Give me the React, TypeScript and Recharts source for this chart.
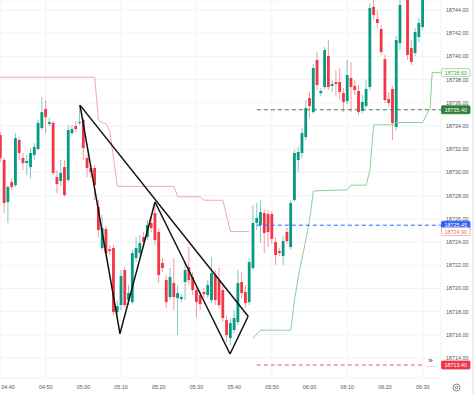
import {
  Bar,
  CartesianGrid,
  ComposedChart,
  Line,
  ReferenceDot,
  ReferenceLine,
  XAxis,
  YAxis,
} from "recharts";

const UP = "#089981";
const DOWN = "#f23645";
const FONT = '"Liberation Sans", Arial, sans-serif';
const AXIS_TEXT = { fontSize: 5.4, fill: "#555", fontFamily: FONT } as const;

// one candle per minute, minutes counted from 04:40 (first candle is 04:38)
const FIRST_MINUTE = -2;

const opens = [
  18733.22, 18731.07, 18727.45, 18729.17, 18728.91, 18732.79, 18731.24, 18730.81, 18730.46, 18731.5,
  18732.02, 18733.83, 18735.46, 18734.17, 18734.26, 18729.6, 18729.26, 18730.46, 18729.34, 18733.39,
  18734.0, 18734.26, 18734.52, 18731.24, 18730.38, 18730.38, 18727.02, 18723.48, 18725.12, 18723.39,
  18723.48, 18717.96, 18718.57, 18721.58, 18718.99, 18718.82, 18722.62, 18723.05, 18724.43, 18724.43,
  18725.64, 18726.5, 18724.86, 18722.19, 18720.72, 18719.26, 18720.46, 18719.17, 18719.08, 18720.55,
  18721.84, 18720.98, 18719.86, 18719.43, 18719.69, 18719.43, 18718.99, 18721.15, 18720.72, 18719.86,
  18717.27, 18715.72, 18716.41, 18717.1, 18720.55, 18719.69, 18718.82, 18721.76, 18725.64, 18725.46,
  18726.5, 18726.41, 18726.41, 18724.0, 18723.22, 18722.79, 18724.86, 18723.57, 18727.62, 18731.07,
  18731.67, 18733.05, 18736.41, 18735.2, 18739.69, 18736.84, 18737.36, 18740.03, 18737.45, 18737.79,
  18737.79, 18736.84, 18736.15, 18738.14, 18737.45, 18737.02, 18735.29, 18735.72, 18737.36, 18744.26,
  18743.22, 18742.36, 18739.77, 18736.33, 18737.19, 18733.91, 18741.15, 18745.0, 18745.12, 18740.72,
  18740.29, 18741.67, 18742.53,
];
const highs = [
  18733.48, 18731.24, 18728.91, 18729.51, 18733.39, 18733.05, 18731.67, 18731.5, 18732.1, 18732.53,
  18734.52, 18736.5, 18736.24, 18734.69, 18734.43, 18730.2, 18731.07, 18731.07, 18734.08, 18734.08,
  18734.43, 18735.81, 18734.69, 18731.5, 18730.6, 18730.64, 18727.62, 18726.32, 18725.38, 18723.74,
  18723.74, 18718.99, 18721.58, 18721.84, 18720.29, 18723.31, 18724.43, 18724.6, 18724.86, 18725.89,
  18726.24, 18727.36, 18725.2, 18722.62, 18721.15, 18721.76, 18722.62, 18720.29, 18719.51, 18722.27,
  18723.57, 18721.41, 18720.29, 18719.69, 18720.03, 18720.72, 18722.7, 18721.58, 18721.76, 18720.46,
  18717.7, 18717.45, 18718.13, 18721.58, 18721.41, 18720.29, 18722.62, 18727.19, 18727.36, 18727.62,
  18726.76, 18726.76, 18726.67, 18724.43, 18723.48, 18724.52, 18725.2, 18727.62, 18731.93, 18732.19,
  18733.83, 18736.24, 18736.93, 18739.34, 18740.38, 18737.27, 18740.81, 18741.41, 18737.96, 18738.83,
  18739.0, 18737.27, 18739.69, 18739.52, 18737.96, 18737.53, 18736.67, 18737.96, 18744.6, 18745.03,
  18744.0, 18742.71, 18740.12, 18736.93, 18737.45, 18741.76, 18745.29, 18746.8, 18745.5, 18741.41,
  18742.45, 18743.31, 18745.4,
];
const lows = [
  18730.9, 18726.5, 18725.64, 18728.48, 18728.74, 18731.07, 18730.2, 18729.77, 18729.51, 18731.07,
  18731.93, 18733.65, 18733.39, 18734.0, 18729.77, 18728.22, 18728.83, 18727.88, 18729.17, 18733.22,
  18733.48, 18734.08, 18731.07, 18729.6, 18729.51, 18727.62, 18724.34, 18723.31, 18722.7, 18722.88,
  18717.7, 18717.45, 18718.13, 18718.31, 18718.57, 18718.65, 18722.27, 18722.79, 18723.65, 18724.17,
  18724.86, 18723.74, 18720.46, 18721.41, 18718.31, 18718.99, 18718.13, 18715.98, 18718.82, 18718.99,
  18720.29, 18719.43, 18717.45, 18718.13, 18719.17, 18719.17, 18718.74, 18718.57, 18718.31, 18717.1,
  18715.38, 18715.12, 18716.15, 18716.84, 18719.17, 18718.31, 18718.57, 18721.58, 18725.03, 18723.91,
  18723.05, 18723.57, 18723.83, 18722.02, 18722.79, 18722.02, 18723.83, 18723.39, 18727.45, 18730.03,
  18731.24, 18732.79, 18734.69, 18735.03, 18737.1, 18736.58, 18737.19, 18737.1, 18736.93, 18736.58,
  18736.24, 18735.2, 18735.9, 18735.2, 18736.67, 18734.95, 18735.12, 18735.55, 18737.1, 18743.14,
  18742.45, 18740.12, 18735.98, 18735.72, 18732.79, 18733.65, 18740.55, 18744.9, 18739.69, 18739.26,
  18740.03, 18741.24, 18742.28,
];
const closes = [
  18731.24, 18727.36, 18728.74, 18728.74, 18732.96, 18731.67, 18730.81, 18730.98, 18731.67, 18732.19,
  18734.26, 18735.2, 18734.77, 18734.34, 18729.95, 18729.0, 18729.95, 18728.05, 18733.65, 18733.74,
  18733.74, 18734.34, 18732.1, 18730.38, 18730.03, 18728.91, 18725.03, 18725.2, 18723.05, 18723.22,
  18717.96, 18718.48, 18721.07, 18718.57, 18719.6, 18723.05, 18723.48, 18723.91, 18724.0, 18725.46,
  18725.2, 18724.17, 18721.15, 18721.76, 18718.82, 18720.98, 18719.26, 18719.6, 18719.26, 18721.58,
  18720.72, 18719.86, 18718.82, 18718.65, 18719.51, 18720.29, 18721.32, 18718.99, 18718.57, 18717.45,
  18715.98, 18717.01, 18717.45, 18720.46, 18719.6, 18718.74, 18722.27, 18725.64, 18726.07, 18726.58,
  18724.77, 18724.86, 18724.26, 18722.88, 18723.05, 18724.08, 18724.08, 18727.36, 18731.67, 18731.76,
  18733.39, 18735.55, 18735.72, 18739.0, 18737.53, 18737.02, 18740.55, 18737.36, 18737.62, 18737.62,
  18736.93, 18736.07, 18738.39, 18737.36, 18737.1, 18735.2, 18736.07, 18737.19, 18744.17, 18743.57,
  18742.88, 18740.38, 18736.24, 18735.98, 18734.26, 18741.41, 18744.43, 18746.3, 18740.12, 18739.52,
  18742.1, 18742.88, 18745.12,
];

// supertrend: resistance (red) then support (green), vertices only
const upperMinutes = [-3, 23, 24, 25, 26, 27, 29, 44, 45, 51, 52, 57, 59, 64];
const upperValues = [
  18738.2, 18738.2, 18734.5, 18734.3, 18734.2, 18733.6, 18728.8, 18728.8, 18727.9, 18727.9, 18727.6,
  18727.6, 18724.9, 18724.9,
];
const lowerMinutes = [65, 67, 75, 76, 77, 79, 80, 81, 90, 91, 95, 96, 97, 102, 103, 110, 112, 112.5, 115];
const lowerValues = [
  18715.7, 18716.4, 18716.4, 18719.0, 18721.0, 18724.2, 18725.9, 18728.4, 18728.5, 18728.9, 18728.9,
  18730.2, 18734.1, 18734.1, 18734.3, 18734.3, 18735.6, 18738.6, 18738.6,
];

// drawn pattern: points A..E and the segments joining them
const patternMinutes = [19.1, 29.7, 39, 58.9, 63.7];
const patternPrices = [18735.8, 18716.1, 18727.45, 18714.35, 18717.6];
const patternLinks = [
  [0, 1],
  [1, 2],
  [2, 3],
  [3, 4],
  [0, 4],
];

const timeTicks = [0, 10, 20, 30, 40, 50, 60, 70, 80, 90, 100, 110];
const timeLabels = [
  "04:40", "04:50", "05:00", "05:10", "05:20", "05:30",
  "05:40", "05:50", "06:00", "06:10", "06:20", "06:30",
];
const priceTicks = [
  18714, 18716, 18718, 18720, 18722, 18724, 18726, 18728, 18730, 18732, 18734, 18736, 18738, 18740,
  18742, 18744,
];

const X_DOMAIN: [number, number] = [-2.12, 114.85];
const Y_DOMAIN: [number, number] = [18712.28, 18744.86];

// dashed levels drawn from 05:46 to the right edge
const LEVEL_START = 66;
const levelPrices = [18735.4, 18725.45, 18713.4];
const levelEnds = [X_DOMAIN[1], X_DOMAIN[1], 110.6];
const levelColors = ["#3f7a4a", "#2962ff", "#f0506e"];

// price tags on the axis
const tagPrices = [18738.6, 18735.4, 18725.45, 18724.9, 18713.4];
const tagFills = ["#ffffff", "#2e7d32", "#2962ff", "#ffffff", "#f23645"];
const tagBorders = ["#8fcf93", "#2e7d32", "#2962ff", "#f5a3a3", "#f23645"];
const tagTexts = ["#4caf50", "#ffffff", "#ffffff", "#ef6b6b", "#ffffff"];

const candles = opens.map((open, i) => ({
  t: FIRST_MINUTE + i,
  open,
  high: highs[i],
  low: lows[i],
  close: closes[i],
}));
const upperLine = upperMinutes.map((t, i) => ({ t, v: upperValues[i] }));
const lowerLine = lowerMinutes.map((t, i) => ({ t, v: lowerValues[i] }));

function Candle(props: any) {
  const { x, y, width, height, payload } = props;
  if (x == null || y == null) return null;
  const cx = x + width / 2;
  const top = Math.min(y, y + height);
  const span = Math.abs(height);
  const k = span / (payload.high - payload.low);
  const up = payload.close >= payload.open;
  const bodyTop = top + (payload.high - Math.max(payload.open, payload.close)) * k;
  const bodyH = Math.max(1, Math.abs(payload.close - payload.open) * k);
  const color = up ? UP : DOWN;
  return (
    <g>
      <line x1={cx} x2={cx} y1={top} y2={top + span} stroke={color} strokeOpacity={0.5} />
      <rect x={cx - 1.4} y={bodyTop} width={2.8} height={bodyH} fill={color} />
    </g>
  );
}

function tagShape(i: number) {
  const text = tagPrices[i].toFixed(2);
  return (p: any) => (
    <g>
      <rect
        x={p.cx + 0.5}
        y={p.cy - 4}
        width={28.5}
        height={8}
        rx={1}
        fill={tagFills[i]}
        stroke={tagBorders[i]}
        strokeWidth={0.8}
      />
      <text
        x={p.cx + 14.75}
        y={p.cy}
        textAnchor="middle"
        dominantBaseline="central"
        fontSize={5.4}
        fontFamily={FONT}
        fill={tagTexts[i]}
      >
        {text}
      </text>
    </g>
  );
}

export default function App() {
  return (
    <div style={{ position: "absolute", left: 0, top: 0, width: 474, height: 394, background: "#fff" }}>
      <ComposedChart
        width={474}
        height={394}
        data={candles}
        margin={{ top: 0, right: 0, bottom: 0, left: 0 }}
      >
        <CartesianGrid stroke="#f2f3f6" />
        <XAxis
          dataKey="t"
          type="number"
          domain={X_DOMAIN}
          allowDataOverflow
          ticks={timeTicks}
          tickFormatter={(v: number) => timeLabels[timeTicks.indexOf(v)] ?? ""}
          height={16}
          axisLine={false}
          tickLine={false}
          tickSize={0}
          tickMargin={7}
          tick={AXIS_TEXT}
        />
        <YAxis
          orientation="right"
          type="number"
          domain={Y_DOMAIN}
          allowDataOverflow
          ticks={priceTicks}
          tickFormatter={(v: number) => v.toFixed(2)}
          width={33}
          axisLine={false}
          tickLine={false}
          tickSize={0}
          tickMargin={5}
          tick={AXIS_TEXT}
        />
        <Line
          data={upperLine}
          dataKey="v"
          type="linear"
          stroke="#f2aaa6"
          strokeWidth={1}
          dot={false}
          isAnimationActive={false}
        />
        <Line
          data={lowerLine}
          dataKey="v"
          type="linear"
          stroke="#8fcf93"
          strokeWidth={1}
          dot={false}
          isAnimationActive={false}
        />
        <Bar
          dataKey={(d: any) => [d.low, d.high]}
          barSize={3}
          shape={(p: any) => <Candle {...p} />}
          isAnimationActive={false}
        />
        {levelPrices.map((price, i) => (
          <ReferenceLine
            key={`lvl${i}`}
            segment={[
              { x: LEVEL_START, y: price },
              { x: levelEnds[i], y: price },
            ]}
            stroke={levelColors[i]}
            strokeDasharray="4 3"
            strokeWidth={1}
          />
        ))}
        {patternLinks.map(([a, b], i) => (
          <ReferenceLine
            key={`pat${i}`}
            segment={[
              { x: patternMinutes[a], y: patternPrices[a] },
              { x: patternMinutes[b], y: patternPrices[b] },
            ]}
            stroke="#111"
            strokeWidth={1.5}
          />
        ))}
        {tagPrices.map((price, i) => (
          <ReferenceDot
            key={`tag${i}`}
            x={X_DOMAIN[1]}
            y={price}
            r={0}
            shape={tagShape(i)}
          />
        ))}
      </ComposedChart>
      <div
        style={{
          position: "absolute",
          left: 426,
          top: 356,
          width: 9,
          height: 10,
          fontSize: 8,
          lineHeight: "9px",
          textAlign: "center",
          color: "#333",
          fontFamily: FONT,
          borderBottom: "1px solid #ddd",
        }}
      >
        »
      </div>
      <svg style={{ position: "absolute", left: 452, top: 383 }} width={9} height={9}>
        <circle cx={4.5} cy={4.5} r={3.5} fill="none" stroke="#666" strokeWidth={0.8} />
        <circle cx={4.5} cy={4.5} r={1.3} fill="none" stroke="#666" strokeWidth={0.8} />
      </svg>
      <div style={{ position: "absolute", left: 472, top: 0, width: 2, height: 394, background: "#eef0f3" }} />
    </div>
  );
}
